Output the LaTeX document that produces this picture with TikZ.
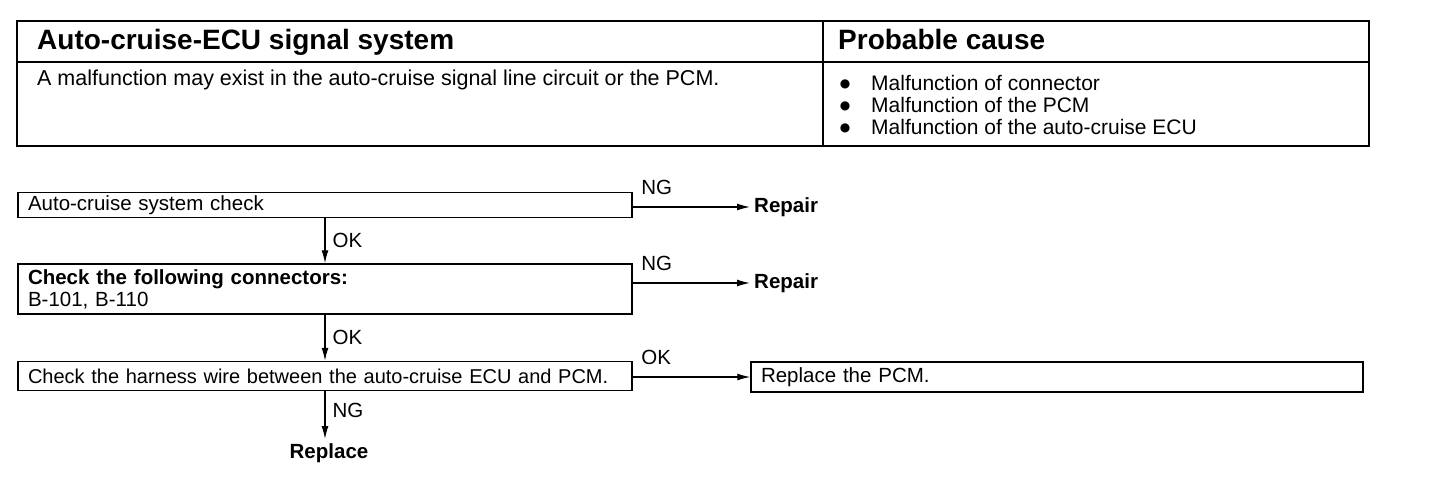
\documentclass[tikz,border=0pt]{standalone}
\usepackage{fontspec}
\setmainfont{Liberation Sans}
\newfontfamily\dgsymb{DejaVu Sans}
\usetikzlibrary{positioning,arrows.meta,calc}
\tikzset{
  dgbox/.style={draw=black, line width=1.4pt, align=left, text width=594pt, inner xsep=10pt,
                inner ysep=2pt, font=\fontsize{20.5}{22}\selectfont},
  dgarrow/.style={-{Latex[length=13pt,width=7pt]}, line width=1.3pt},
  dglabel/.style={font=\fontsize{20.5}{22}\selectfont, inner sep=2pt},
  dgaction/.style={font=\fontsize{20.5}{22}\selectfont\bfseries, inner sep=4pt},
  dgtitle/.style={font=\fontsize{28}{30}\selectfont\bfseries, anchor=base west, inner sep=0pt},
}

\begin{document}
\begin{tikzpicture}[x=1pt,y=-1pt]
  \useasboundingbox (0,0) rectangle (1456,486);
  % tabela
  \draw[line width=2.2pt] (17,21) rectangle (1369,146);
  \draw[line width=1.2pt] (17,62) -- (1369,62);
  \draw[line width=1.2pt] (823,21) -- (823,146);
  \node[dgtitle] (hsys) at (37,50) {Auto-cruise-ECU signal system};
  \node[dgtitle] (hcause) at (838,50) {Probable cause};
  \node[dglabel, anchor=base west, inner sep=0pt, font=\fontsize{21.5}{22}\selectfont] (desc) at (37,86) {A malfunction may exist in the auto-cruise signal line circuit or the PCM.};
  \foreach \txt [count=\i] in {Malfunction of connector, Malfunction of the PCM, Malfunction of the auto-cruise ECU} {
    \node[inner sep=0pt, font=\dgsymb\fontsize{12}{12}\selectfont] (bul\i) at (845,{62+22*\i}) {●};
    \node[dglabel, anchor=base west, inner sep=0pt, font=\fontsize{21}{22}\selectfont] (cause\i) at (871,{69+22*\i}) {\txt};
  }
  % fluxograma
  \node[dgbox, minimum height=25pt] (sys) at (325,205) {Auto-cruise system check};
  \node[dgbox, minimum height=50pt] (conn) at (325,289) {\textbf{Check the following connectors:}\\B-101, B-110};
  \node[dgbox, minimum height=29pt, font=\fontsize{20}{22}\selectfont] (harn) at (325,376) {\mbox{Check the harness wire between the auto-cruise ECU and PCM.}};
  \node[dgbox, text width=592pt, minimum height=30pt] (pcm) at (1057,377) {Replace the PCM.};
  \node[dgaction, anchor=west] (rep1) at (750,207) {Repair};
  \node[dgaction, anchor=west] (rep2) at (750,283) {Repair};
  \node[dgaction, anchor=north] (repl) at (329,439) {Replace};
  \draw[dgarrow] (sys.south) -- node[dglabel, right, xshift=5pt] {OK} (conn.north);
  \draw[dgarrow] (conn.south) -- node[dglabel, right, xshift=5pt] {OK} (harn.north);
  \draw[dgarrow] (harn.south) -- node[dglabel, right, xshift=5pt, pos=0.4] {NG} (harn.south |- repl.north);
  \draw[dgarrow] (rep1.west -| sys.east) -- node[dglabel, pos=0, anchor=south west, xshift=6pt, yshift=10pt] {NG} (rep1.west);
  \draw[dgarrow] (rep2.west -| conn.east) -- node[dglabel, pos=0, anchor=south west, xshift=6pt, yshift=10pt] {NG} (rep2.west);
  \draw[dgarrow] (pcm.west -| harn.east) -- node[dglabel, pos=0, anchor=south west, xshift=6pt, yshift=10pt] {OK} (pcm.west);
\end{tikzpicture}
\end{document}
